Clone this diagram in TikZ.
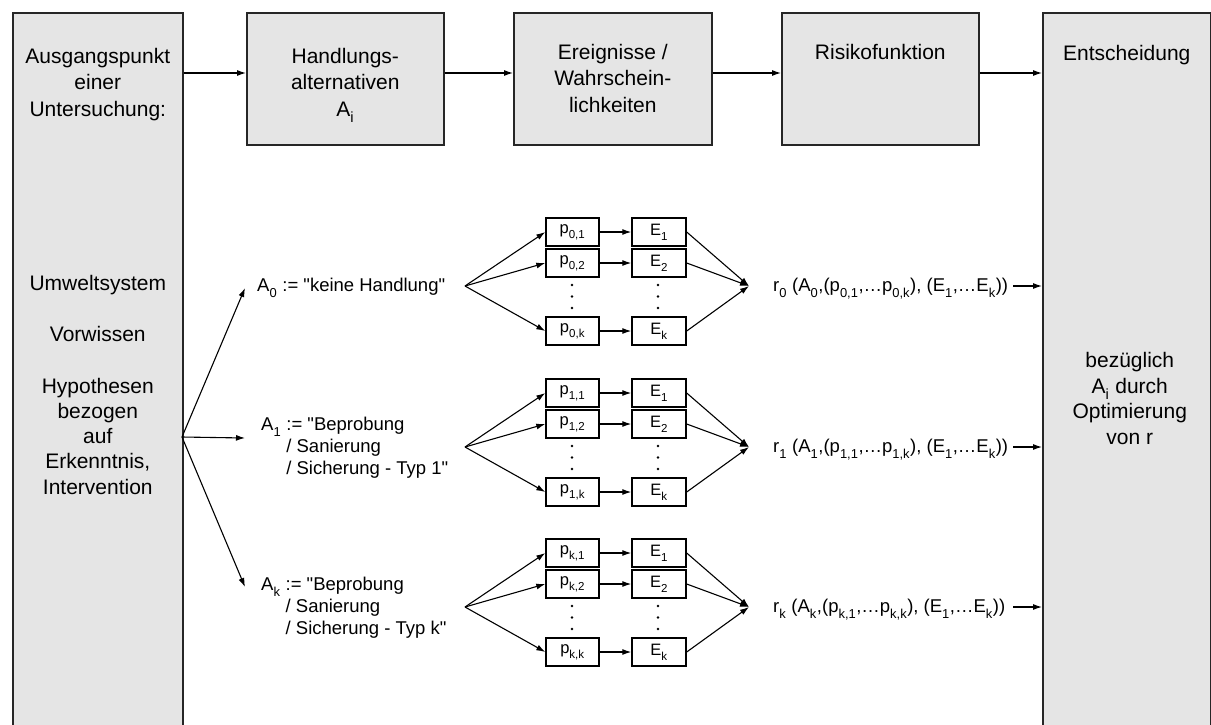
\documentclass[tikz,border=0pt]{standalone}
\usepackage{fontspec}
\setmainfont{Liberation Sans}
\usetikzlibrary{arrows.meta, positioning, calc}

\newcommand{\tief}[1]{\raisebox{-0.14em}{\textsubscript{#1}}}
\newcommand{\qq}{\textquotedbl}

\tikzset{
    bigbox/.style={draw=black!85, line width=1.6pt, fill=black!10, inner sep=0pt, anchor=north west},
    smallbox/.style={draw, line width=1.4pt, fill=white, minimum height=28pt, inner sep=0pt, font=\fontsize{16.5}{16.5}\selectfont},
    boxtext/.style={anchor=north, align=center, inner sep=0pt, font=\fontsize{21}{26.5}\selectfont},
    alttext/.style={anchor=west, align=left, inner sep=0pt, font=\fontsize{18.5}{22}\selectfont},
    pfeil/.style={-{Latex[length=9pt,width=6pt]}, line width=1.1pt}
}

\begin{document}
\begin{tikzpicture}[x=1pt, y=-1pt]
    \clip (0,0) rectangle (1211,724);
    % obere Reihe
    \node[bigbox, minimum width=170pt, minimum height=740pt] (start) at (12,12) {};
    \node[bigbox, minimum width=197pt, minimum height=132pt] (hand) at (246,12) {};
    \node[bigbox, minimum width=198pt, minimum height=132pt] (ereig) at (513,12) {};
    \node[bigbox, minimum width=197pt, minimum height=132pt] (risiko) at (781,12) {};
    \node[bigbox, minimum width=168pt, minimum height=740pt] (ents) at (1042,12) {};

    \node[boxtext] (t-start) at ([yshift=-36pt]start.north) {Ausgangspunkt\\einer\\Untersuchung:};
    \node[boxtext, font=\fontsize{21}{25.3}\selectfont] (t-umwelt) at ([yshift=-263pt]start.north)
        {Umweltsystem\\[26pt]Vorwissen\\[26pt]Hypothesen\\bezogen\\auf\\Erkenntnis,\\Intervention};
    \node[boxtext] (t-hand) at ([yshift=-36pt]hand.north) {Handlungs-\\alternativen\\A\tief{i}};
    \node[boxtext] (t-ereig) at ([yshift=-32pt]ereig.north) {Ereignisse /\\Wahrschein-\\lichkeiten};
    \node[boxtext] (t-risiko) at ([yshift=-32pt]risiko.north) {Risikofunktion};
    \node[boxtext] (t-ents) at ([yshift=-33pt]ents.north) {Entscheidung};
    \node[boxtext, font=\fontsize{21}{25.7}\selectfont] (t-opt) at ([xshift=3pt, yshift=-340pt]ents.north)
        {bezüglich\\A\tief{i} durch\\Optimierung\\von r};

    \coordinate (row) at (0,73);
    \draw[pfeil] (start.east |- row) -- (hand.west |- row);
    \draw[pfeil] (hand.east |- row) -- (ereig.west |- row);
    \draw[pfeil] (ereig.east |- row) -- (risiko.west |- row);
    \draw[pfeil] (risiko.east |- row) -- (ents.west |- row);

    % Handlungsalternativen
    \node[alttext] (alt0) at (257,288) {A\tief{0} := \qq keine Handlung\qq};
    \node[alttext] (alt1) at (261,448) {A\tief{1} := \qq Beprobung\\\hphantom{A\tief{1} }/ Sanierung\\\hphantom{A\tief{1} }/ Sicherung - Typ 1\qq};
    \node[alttext] (alt2) at (261,608) {A\tief{k} := \qq Beprobung\\\hphantom{A\tief{k} }/ Sanierung\\\hphantom{A\tief{k} }/ Sicherung - Typ k\qq};

    \coordinate (branch) at (182,437);
    \coordinate (z0) at (245,288);
    \coordinate (z1) at (245,438);
    \coordinate (z2) at (245,587);
    \foreach \g in {0,1,2}
        \draw[pfeil] (branch) -- (z\g);

    \foreach \g/\Y/\s in {0/286/0, 1/447/1, 2/607/k} {
        \coordinate (fan\g) at (465,\Y);
        \coordinate (ziel\g) at (749,\Y);
        \foreach \i/\dy/\t in {1/-54/1, 2/-23/2, 3/45/k} {
            \node[smallbox, minimum width=53pt] (p\g\i) at (572.5,\Y+\dy) {p\tief{\s,\t}};
            \node[smallbox, minimum width=54pt] (e\g\i) at (659,\Y+\dy) {E\tief{\t}};
            \draw[pfeil] (fan\g) -- (p\g\i.west);
            \draw[pfeil] (p\g\i) -- (e\g\i);
            \draw[pfeil] (e\g\i.east) -- (ziel\g);
        }
        \foreach \d in {-1,10.5,22} {
            \fill (572,\Y+\d) circle (1.3);
            \fill (658,\Y+\d) circle (1.3);
        }
        \node[alttext] (r\g) at (773,\Y+3) {r\tief{\s} (A\tief{\s},(p\tief{\s,1},…p\tief{\s,k}), (E\tief{1},…E\tief{k}))};
        \coordinate (rr\g) at (1013,\Y);
        \draw[pfeil] (rr\g) -- (ents.west |- rr\g);
    }
\end{tikzpicture}
\end{document}
